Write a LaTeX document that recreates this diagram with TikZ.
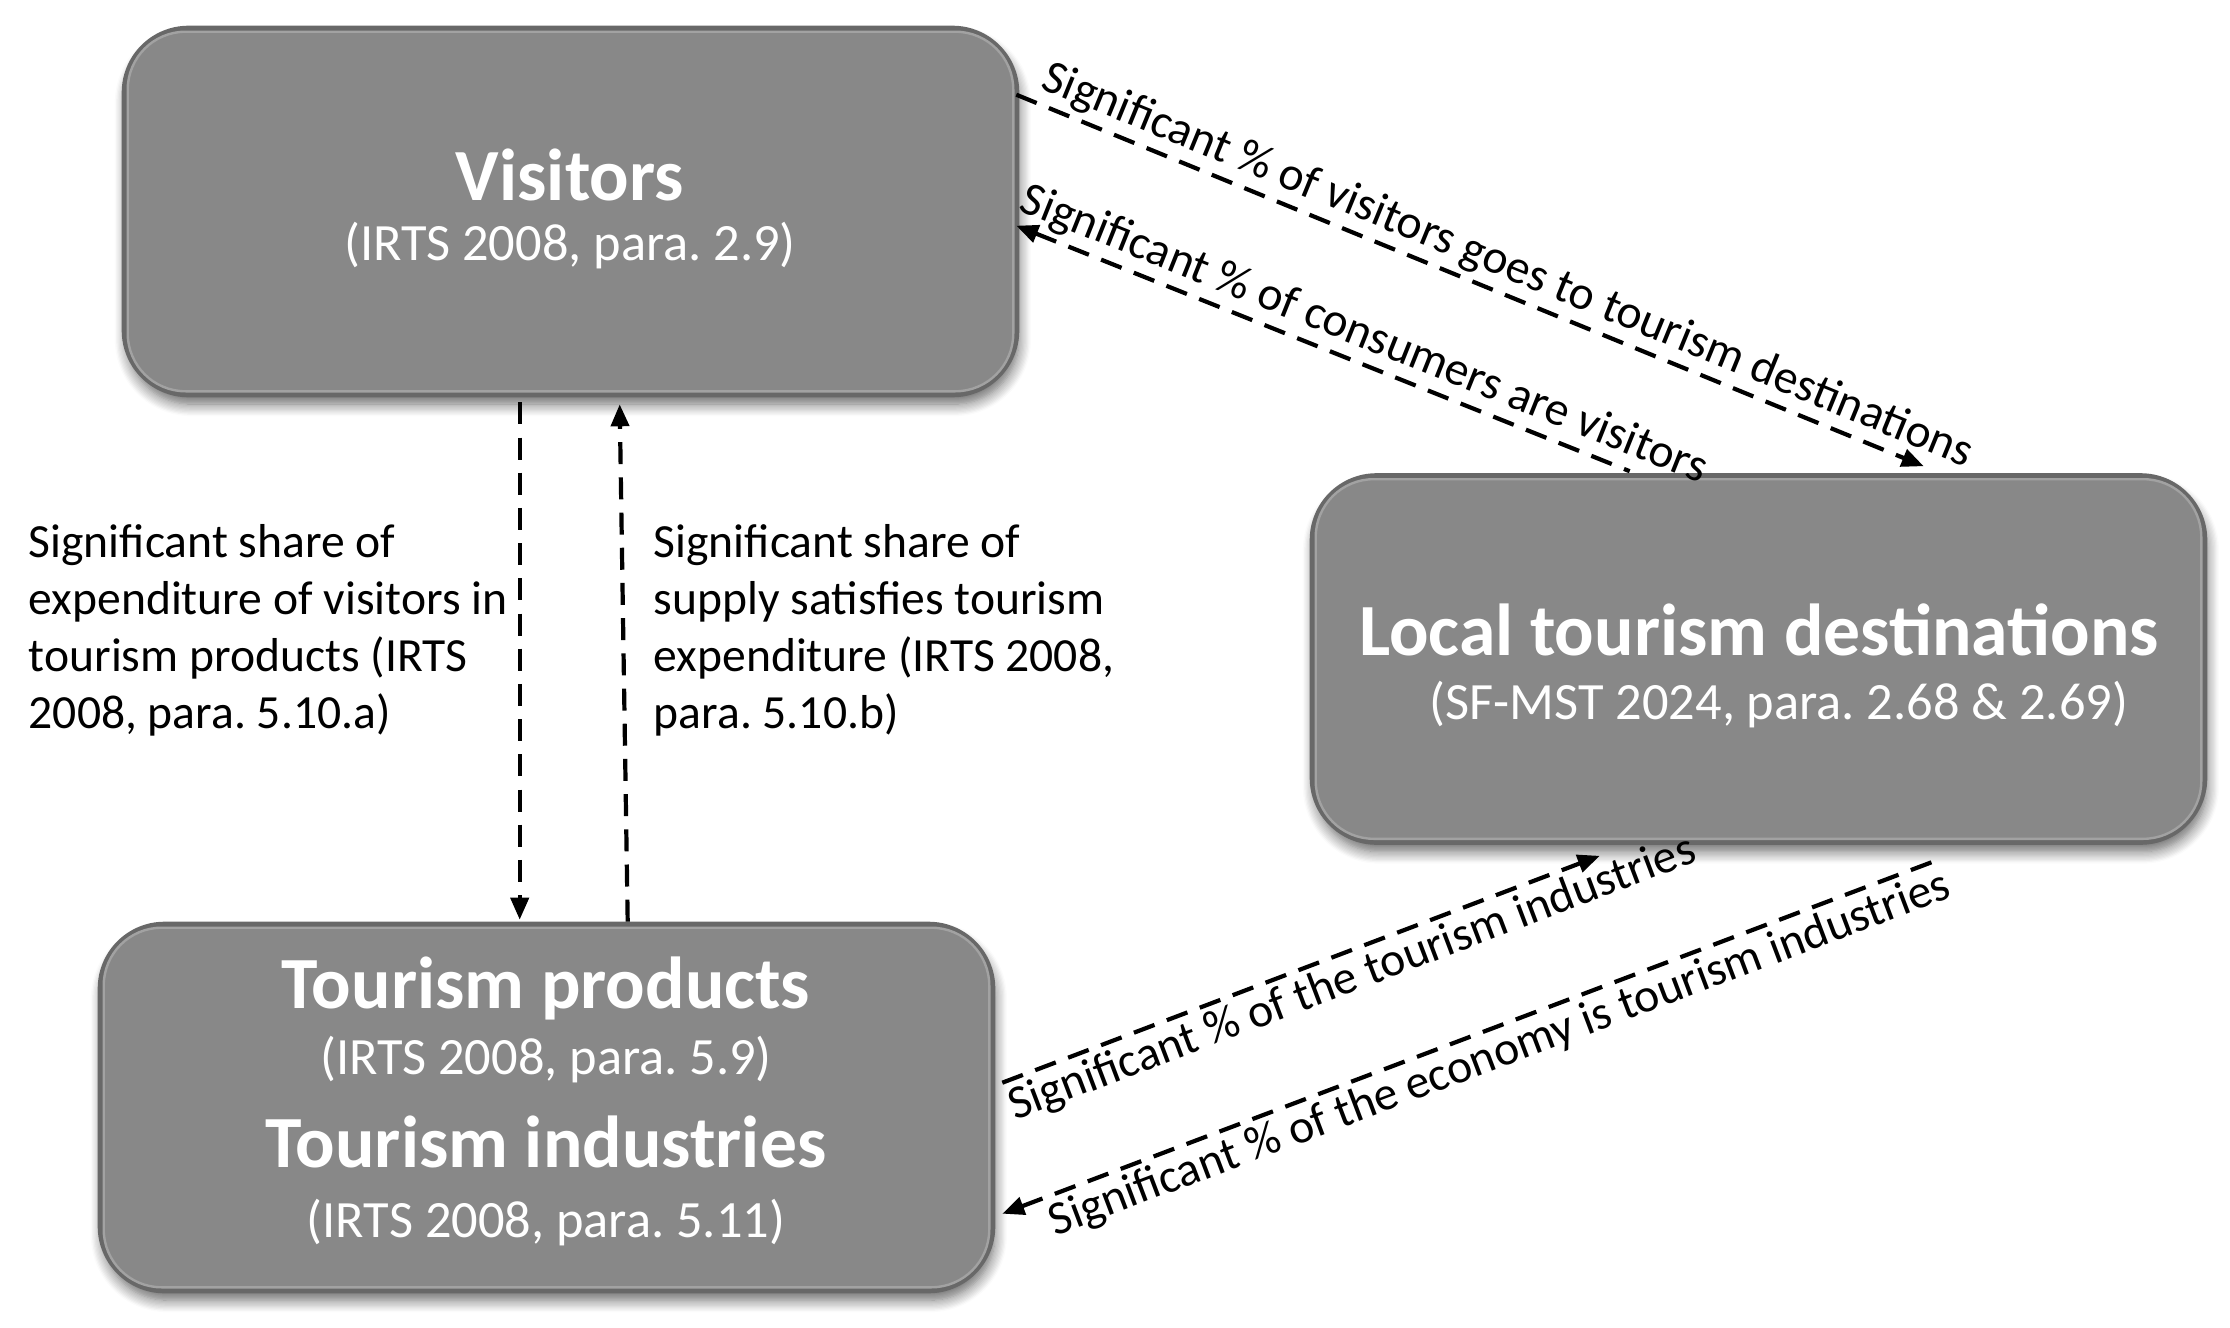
\documentclass[tikz,border=0pt]{standalone}
\usepackage{fontspec}
\setmainfont{Carlito}
\usetikzlibrary{arrows.meta,calc,shadows.blur}
\definecolor{boxgray}{HTML}{888888}
\definecolor{boxedge}{HTML}{686868}
\definecolor{boxrim}{HTML}{A2A2A2}
\frenchspacing
\begin{document}
\begin{tikzpicture}[x=0.25pt,y=-0.25pt,
  box/.style={rounded corners=16pt, fill=boxgray, draw=boxedge, line width=1.4pt, inner sep=0pt,
    minimum width=223pt, minimum height=91.5pt,
    blur shadow={shadow xshift=0.6pt, shadow yshift=-2.4pt, shadow blur steps=10, shadow opacity=60, shadow blur radius=3pt}},
  rim/.style={rounded corners=14.5pt, draw=boxrim, line width=0.6pt},
  ttl/.style={text=white, font=\bfseries\fontsize{18.4}{22}\selectfont, inner sep=0pt},
  subt/.style={text=white, font=\fontsize{13.1}{16}\selectfont, inner sep=0pt},
  lab/.style={font=\fontsize{11.9}{14.25}\selectfont, align=left, inner sep=0pt, anchor=west},
  dlab/.style={font=\fontsize{11.9}{14.25}\selectfont, inner sep=1.2pt, sloped},
  conn/.style={dash pattern=on 5.5pt off 3.3pt, line width=1.05pt},
  tip/.style={-{Triangle[length=5.5pt,width=4.5pt]}},
  rtip/.style={{Triangle[length=5.5pt,width=4.5pt]}-}
]
\useasboundingbox (0,0) rectangle (2230,1328);

% boxes
\node[box] (vis) at (570.5,211.5) {};
\node[box] (loc) at (1758.5,659) {};
\node[box] (tour) at (546.5,1107.5) {};
\foreach \b in {vis,loc,tour}
  \draw[rim] ($(\b.north west)+(6,6)$) rectangle ($(\b.south east)+(-6,-6)$);

% box texts
\node[ttl]  (visT) at (570,175) {Visitors};
\node[subt] (visS) at (570,246) {(IRTS 2008, para. 2.9)};
\node[ttl]  (locT) at (1759,630) {Local tourism destinations};
\node[subt] (locS) at (1779,705) {(SF-MST 2024, para. 2.68 \& 2.69)};
\node[ttl]  (prodT) at (546,988) {Tourism products};
\node[subt] (prodS) at (546,1060) {(IRTS 2008, para. 5.9)};
\node[ttl]  (indT) at (546,1142) {Tourism industries};
\node[subt] (indS) at (546,1223) {(IRTS 2008, para. 5.11)};

% vertical connectors
\draw[conn,tip] ($(vis.south west)+(398,5)$) -- ($(tour.north west)+(422,-2)$);
\draw[conn,tip] ($(tour.north west)+(530,0)$) -- ($(vis.south west)+(498,7)$);

\node[lab] (labA) at (28,630) {Significant share of\\expenditure of visitors in\\tourism products (IRTS\\2008, para. 5.10.a)};
\node[lab] (labB) at (653,630) {Significant share of\\supply satisfies tourism\\expenditure (IRTS 2008,\\para. 5.10.b)};

% diagonal connectors
\draw[conn,tip] ($(vis.north east)+(-3,69)$) -- ($(loc.north west)+(614,-7)$)
  node[dlab, pos=.53, above] {Significant \% of visitors goes to tourism destinations};
\draw[conn,rtip] ($(vis.north east)+(-3,200)$) -- ($(loc.north west)+(320,-2)$)
  node[dlab, pos=.55, above] {Significant \% of consumers are visitors};
\draw[conn,tip] ($(tour.north east)+(7,161)$) -- ($(loc.south west)+(290,11)$)
  node[dlab, pos=.57, below] {Significant \% of the tourism industries};
\draw[conn,rtip] ($(tour.north east)+(7,292)$) -- ($(loc.south west)+(631,14)$)
  node[dlab, pos=.52, below] {Significant \% of the economy is tourism industries};
\end{tikzpicture}
\end{document}
